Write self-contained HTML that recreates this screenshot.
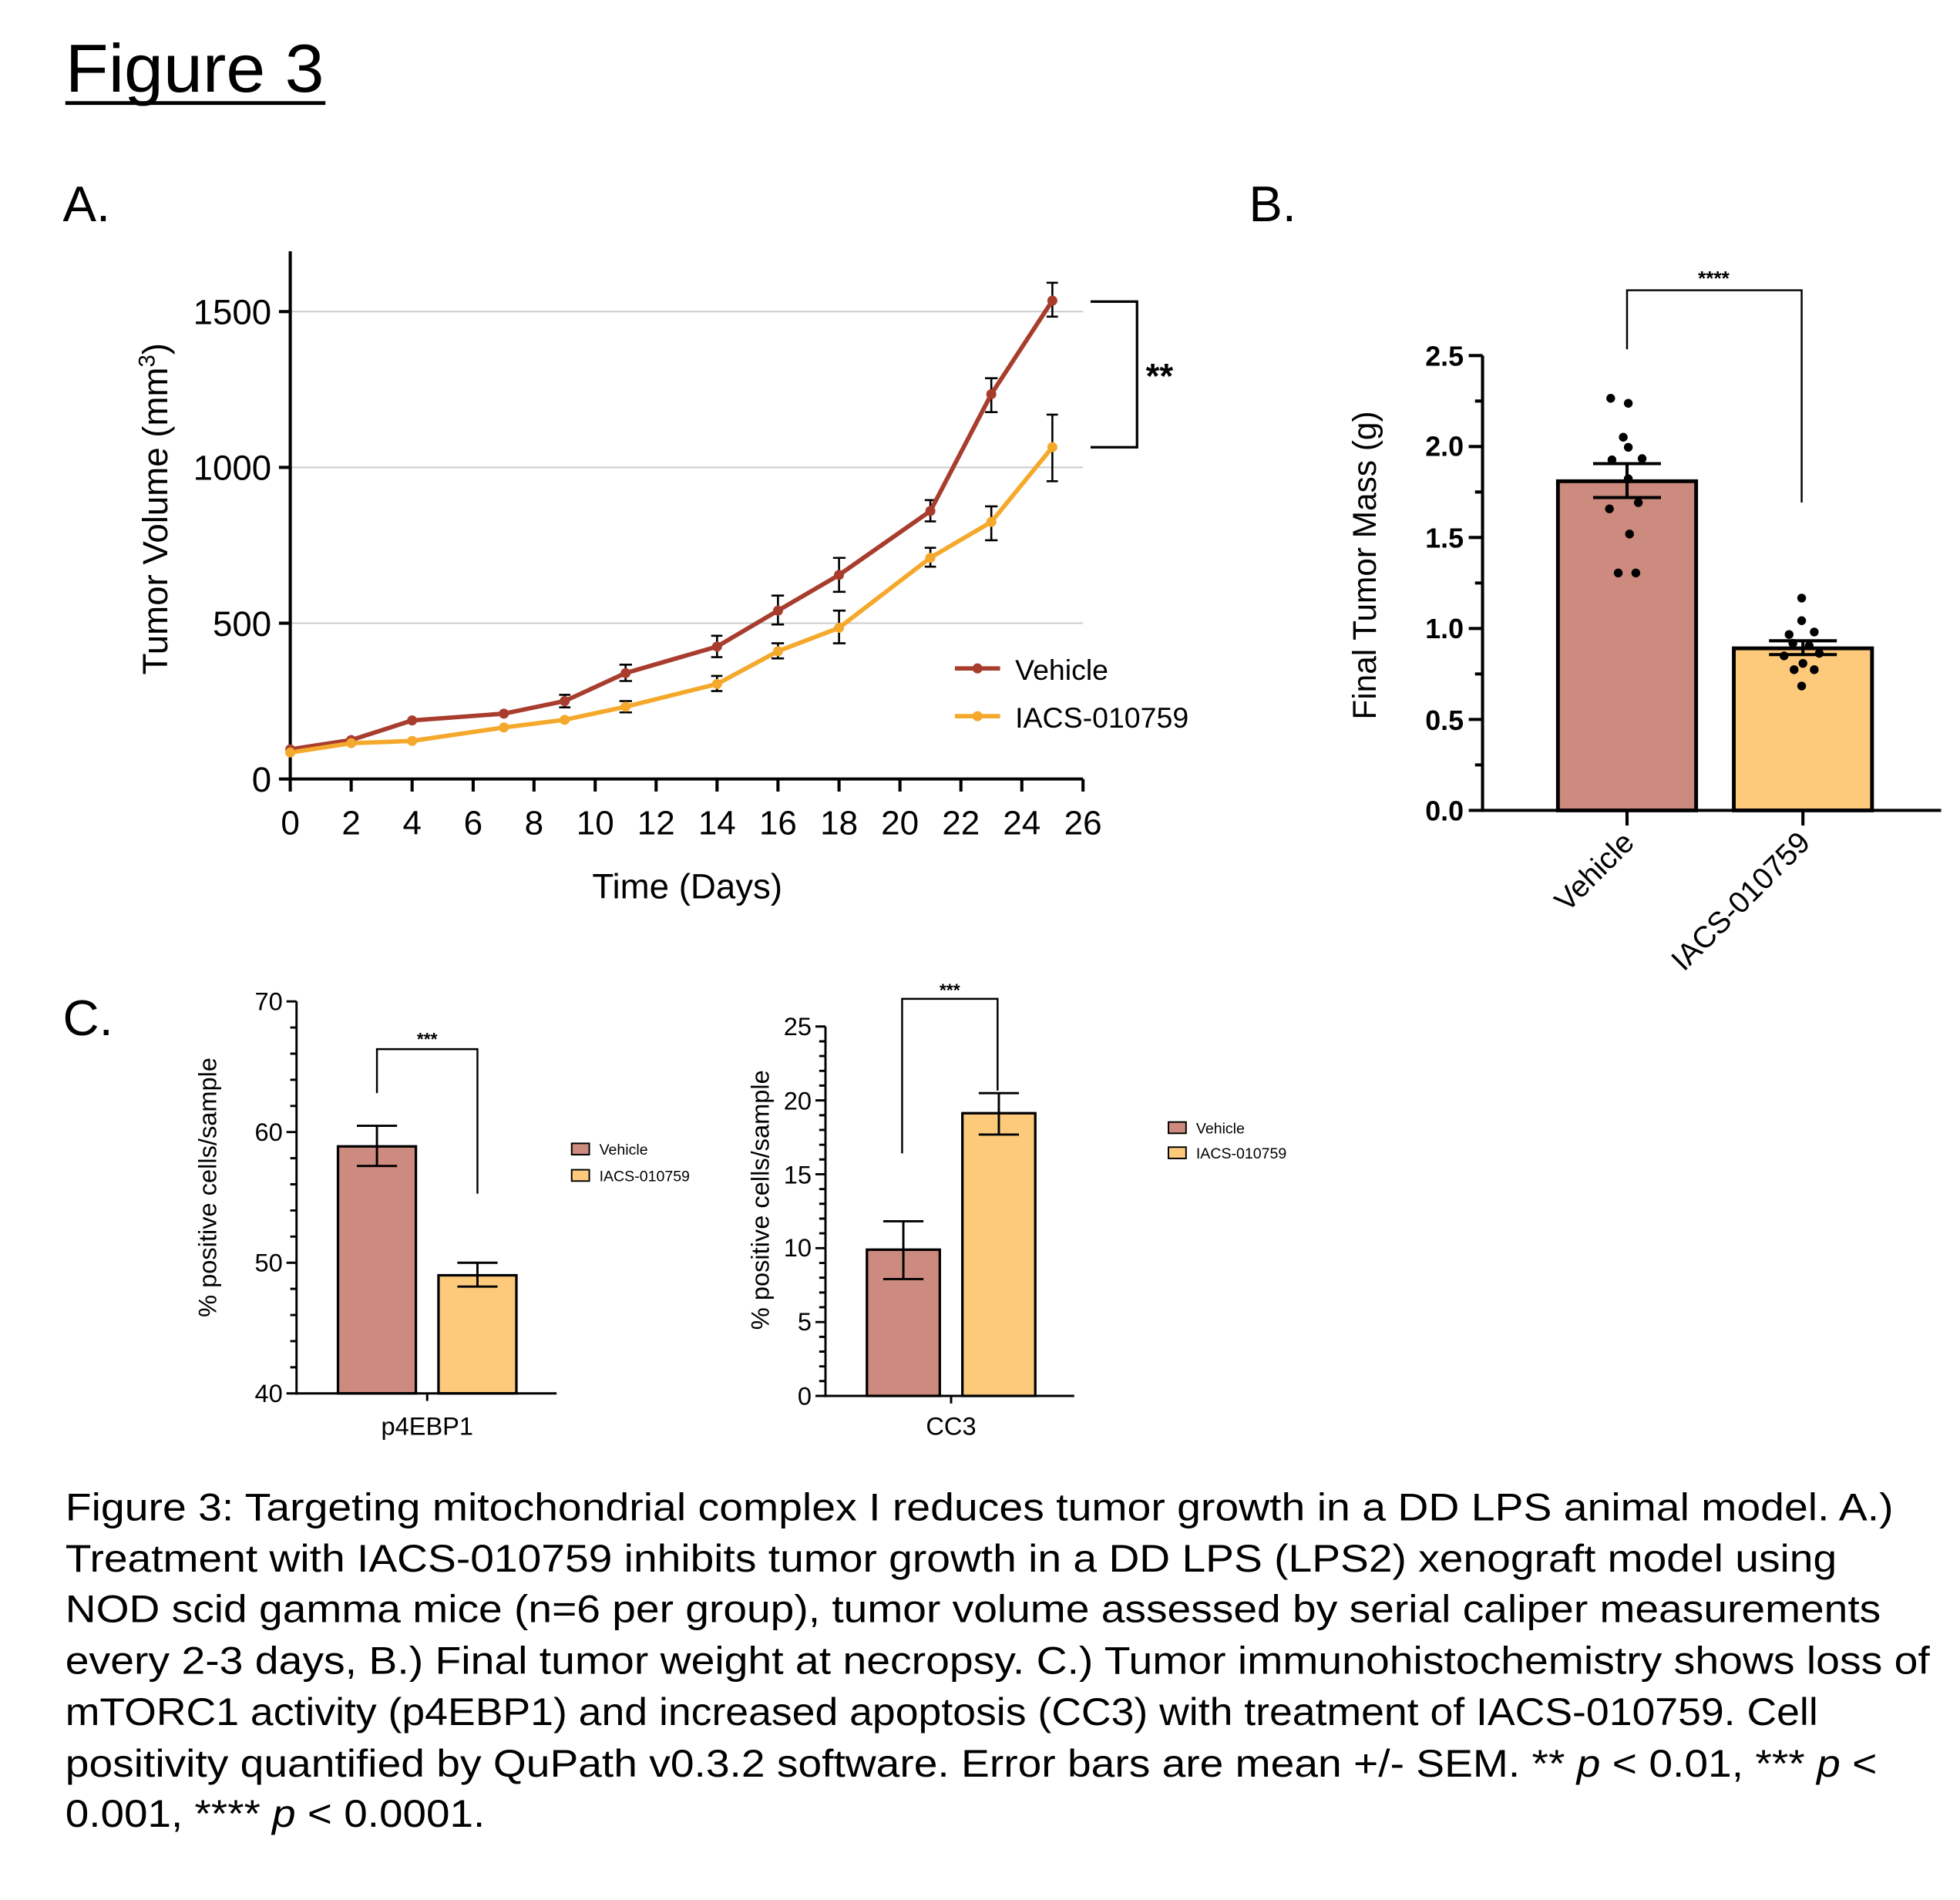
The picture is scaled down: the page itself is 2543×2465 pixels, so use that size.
<!DOCTYPE html>
<html><head><meta charset="utf-8"><style>
html,body{margin:0;padding:0;background:#fff}
svg{display:block}
text{font-family:"Liberation Sans",Arial,sans-serif;fill:#000}
</style></head><body>
<svg width="2543" height="2465" viewBox="0 0 1560 1512.2" xmlns="http://www.w3.org/2000/svg">
<rect width="1560" height="1513" fill="#fff"/>
<!-- Title -->
<text x="52" y="73" font-size="54" textLength="206" lengthAdjust="spacingAndGlyphs">Figure 3</text>
<line x1="52" y1="82" x2="259" y2="82" stroke="#000" stroke-width="3"/>
<text x="50" y="176" font-size="40">A.</text>
<text x="994" y="176" font-size="40">B.</text>
<text x="50" y="824" font-size="40">C.</text>

<!-- Panel A -->
<g stroke="#ccc" stroke-width="1.2">
<line x1="231" y1="496" x2="862" y2="496"/><line x1="231" y1="372" x2="862" y2="372"/><line x1="231" y1="248" x2="862" y2="248"/>
</g>
<g stroke="#000" stroke-width="2.5" fill="none">
<line x1="231" y1="200" x2="231" y2="621"/><line x1="230" y1="620" x2="862" y2="620"/>
<line x1="222" y1="620" x2="231" y2="620"/><line x1="222" y1="496" x2="231" y2="496"/><line x1="222" y1="372" x2="231" y2="372"/><line x1="222" y1="248" x2="231" y2="248"/>
</g>
<g font-size="28" text-anchor="end">
<text x="216" y="630">0</text><text x="216" y="506">500</text><text x="216" y="382">1000</text><text x="216" y="258">1500</text>
</g>
<g stroke="#000" stroke-width="2.5">
<line x1="231" y1="620" x2="231" y2="630"/><line x1="279.5" y1="620" x2="279.5" y2="630"/><line x1="328" y1="620" x2="328" y2="630"/><line x1="376.6" y1="620" x2="376.6" y2="630"/><line x1="425" y1="620" x2="425" y2="630"/><line x1="473.7" y1="620" x2="473.7" y2="630"/><line x1="522.2" y1="620" x2="522.2" y2="630"/><line x1="570.7" y1="620" x2="570.7" y2="630"/><line x1="619.2" y1="620" x2="619.2" y2="630"/><line x1="667.8" y1="620" x2="667.8" y2="630"/><line x1="716.3" y1="620" x2="716.3" y2="630"/><line x1="764.8" y1="620" x2="764.8" y2="630"/><line x1="813.3" y1="620" x2="813.3" y2="630"/><line x1="862" y1="620" x2="862" y2="630"/>
</g>
<g font-size="27" text-anchor="middle">
<text x="231" y="664">0</text><text x="279.5" y="664">2</text><text x="328" y="664">4</text><text x="376.6" y="664">6</text><text x="425" y="664">8</text><text x="473.7" y="664">10</text><text x="522.2" y="664">12</text><text x="570.7" y="664">14</text><text x="619.2" y="664">16</text><text x="667.8" y="664">18</text><text x="716.3" y="664">20</text><text x="764.8" y="664">22</text><text x="813.3" y="664">24</text><text x="862" y="664">26</text>
</g>
<text x="547" y="715" font-size="28" text-anchor="middle">Time (Days)</text>
<text transform="translate(133,405) rotate(-90)" font-size="28" text-anchor="middle">Tumor Volume (mm<tspan dy="-10" font-size="18">3</tspan><tspan dy="10">)</tspan></text>
<g stroke="#000" stroke-width="1.6">
<path d="M837.6 225V252M833 225h9M833 252h9"/>
<path d="M789 301V328M784 301h10M784 328h10"/>
<path d="M740.5 398V415M736 398h9M736 415h9"/>
<path d="M667.8 444V471M663 444h10M663 471h10"/>
<path d="M619.2 474V497M614 474h10M614 497h10"/>
<path d="M570.7 506V523M566 506h9M566 523h9"/>
<path d="M497.9 529V542M493 529h10M493 542h10"/>
<path d="M449.4 553V563M445 553h9M445 563h9"/>
<path d="M837.6 330V383M833 330h9M833 383h9"/>
<path d="M789 403V430M784 403h10M784 430h10"/>
<path d="M740.5 436V451M736 436h9M736 451h9"/>
<path d="M667.8 486V512M663 486h10M663 512h10"/>
<path d="M619.2 512V524M614 512h10M614 524h10"/>
<path d="M570.7 538V550M566 538h9M566 550h9"/>
<path d="M497.9 558V567M493 558h10M493 567h10"/>
</g>
<polyline fill="none" stroke="#a83d2e" stroke-width="3.5" points="231,596.4 279.5,589 328,573.4 401,568 449.4,558 497.9,535.7 570.7,514.6 619.2,486 667.8,457.6 740.5,406.7 789,313.7 837.6,239.3"/>
<polyline fill="none" stroke="#f5a92c" stroke-width="3.5" points="231,598.9 279.5,591.5 328,589.7 401,579 449.4,572.9 497.9,562.5 570.7,544.4 619.2,518.3 667.8,499.7 740.5,443.9 789,415.4 837.6,355.9"/>
<g fill="#a83d2e"><circle cx="231" cy="596.4" r="4"/><circle cx="279.5" cy="589" r="4"/><circle cx="328" cy="573.4" r="4"/><circle cx="401" cy="568" r="4"/><circle cx="449.4" cy="558" r="4"/><circle cx="497.9" cy="535.7" r="4"/><circle cx="570.7" cy="514.6" r="4"/><circle cx="619.2" cy="486" r="4"/><circle cx="667.8" cy="457.6" r="4"/><circle cx="740.5" cy="406.7" r="4"/><circle cx="789" cy="313.7" r="4"/><circle cx="837.6" cy="239.3" r="4"/></g>
<g fill="#f5a92c"><circle cx="231" cy="598.9" r="4"/><circle cx="279.5" cy="591.5" r="4"/><circle cx="328" cy="589.7" r="4"/><circle cx="401" cy="579" r="4"/><circle cx="449.4" cy="572.9" r="4"/><circle cx="497.9" cy="562.5" r="4"/><circle cx="570.7" cy="544.4" r="4"/><circle cx="619.2" cy="518.3" r="4"/><circle cx="667.8" cy="499.7" r="4"/><circle cx="740.5" cy="443.9" r="4"/><circle cx="789" cy="415.4" r="4"/><circle cx="837.6" cy="355.9" r="4"/></g>
<path d="M868 240H905V356H868" fill="none" stroke="#000" stroke-width="2"/>
<text x="912" y="309" font-size="28" font-weight="bold">**</text>
<line x1="760" y1="532" x2="796" y2="532" stroke="#a83d2e" stroke-width="3.5"/><circle cx="778" cy="532" r="4" fill="#a83d2e"/>
<text x="808" y="541" font-size="23">Vehicle</text>
<line x1="760" y1="570" x2="796" y2="570" stroke="#f5a92c" stroke-width="3.5"/><circle cx="778" cy="570" r="4" fill="#f5a92c"/>
<text x="808" y="579" font-size="23">IACS-010759</text>

<!-- Panel B -->
<rect x="1240" y="383" width="110" height="262" fill="#cd8a7e" stroke="#000" stroke-width="3"/>
<rect x="1380" y="516" width="110" height="129" fill="#fdca7c" stroke="#000" stroke-width="3"/>
<g stroke="#000" stroke-width="2.5" fill="none">
<line x1="1180" y1="283" x2="1180" y2="646"/><line x1="1179" y1="645" x2="1545" y2="645"/>
<path d="M1169 645h11M1169 572.6h11M1169 500.2h11M1169 427.8h11M1169 355.4h11M1169 283h11"/>
<path d="M1174 608.8h6M1174 536.4h6M1174 464h6M1174 391.6h6M1174 319.2h6"/>
<path d="M1295 645v12M1435 645v12"/>
<path d="M1295 369v27M1268 369h54M1268 396h54"/>
<path d="M1435 510v11M1408 510h54M1408 521h54"/>
</g>
<g font-size="22" font-weight="bold" text-anchor="end">
<text x="1165" y="653">0.0</text><text x="1165" y="581">0.5</text><text x="1165" y="508">1.0</text><text x="1165" y="436">1.5</text><text x="1165" y="363">2.0</text><text x="1165" y="291">2.5</text>
</g>
<text transform="translate(1095,450) rotate(-90)" font-size="26" text-anchor="middle">Final Tumor Mass (g)</text>
<g fill="#000">
<circle cx="1282" cy="317" r="3.5"/><circle cx="1296" cy="321" r="3.5"/><circle cx="1292" cy="348" r="3.5"/><circle cx="1296" cy="356" r="3.5"/><circle cx="1283" cy="366" r="3.5"/><circle cx="1307" cy="365" r="3.5"/><circle cx="1296" cy="381" r="3.5"/><circle cx="1304" cy="400" r="3.5"/><circle cx="1281" cy="405" r="3.5"/><circle cx="1297" cy="425" r="3.5"/><circle cx="1288" cy="456" r="3.5"/><circle cx="1302" cy="456" r="3.5"/>
<circle cx="1434" cy="476" r="3.5"/><circle cx="1434" cy="494" r="3.5"/><circle cx="1424" cy="505" r="3.5"/><circle cx="1444" cy="503" r="3.5"/><circle cx="1427" cy="512" r="3.5"/><circle cx="1440" cy="514" r="3.5"/><circle cx="1420" cy="522" r="3.5"/><circle cx="1448" cy="520" r="3.5"/><circle cx="1435" cy="528" r="3.5"/><circle cx="1428" cy="533" r="3.5"/><circle cx="1444" cy="533" r="3.5"/><circle cx="1434" cy="546" r="3.5"/>
</g>
<path d="M1295 278V231H1434V400" fill="none" stroke="#000" stroke-width="1.5"/>
<text x="1364" y="227" font-size="16" font-weight="bold" text-anchor="middle">****</text>
<text transform="translate(1302,672) rotate(-45)" font-size="24" text-anchor="end">Vehicle</text>
<text transform="translate(1442,672) rotate(-45)" font-size="24" text-anchor="end">IACS-010759</text>

<!-- Panel C left -->
<rect x="269" y="912.4" width="62" height="196.6" fill="#cd8a7e" stroke="#000" stroke-width="2"/>
<rect x="349" y="1015" width="62" height="94" fill="#fdca7c" stroke="#000" stroke-width="2"/>
<g stroke="#000" stroke-width="1.8" fill="none">
<line x1="236" y1="797" x2="236" y2="1110"/><line x1="235" y1="1109" x2="443" y2="1109"/>
<path d="M228 1109h8M228 1005h8M228 901h8M228 797h8"/>
<path d="M231 1088.2h5M231 1067.4h5M231 1046.6h5M231 1025.8h5M231 984.2h5M231 963.4h5M231 942.6h5M231 921.8h5M231 880.2h5M231 859.4h5M231 838.6h5M231 817.8h5"/>
<path d="M300 896v32M284 896h32M284 928h32"/>
<path d="M380 1005v19M364 1005h32M364 1024h32"/>
<path d="M340 1109v6"/>
</g>
<path d="M300 870V835H380V950" fill="none" stroke="#000" stroke-width="1.5"/>
<text x="340" y="832" font-size="14" font-weight="bold" text-anchor="middle">***</text>
<g font-size="20" text-anchor="end"><text x="225" y="1116">40</text><text x="225" y="1012">50</text><text x="225" y="908">60</text><text x="225" y="804">70</text></g>
<text x="340" y="1142" font-size="20" text-anchor="middle">p4EBP1</text>
<text transform="translate(172,945) rotate(-90)" font-size="20" text-anchor="middle">% positive cells/sample</text>
<rect x="455" y="910" width="14" height="9" fill="#cd8a7e" stroke="#000" stroke-width="1.2"/><text x="477" y="919" font-size="12">Vehicle</text>
<rect x="455" y="931" width="14" height="9" fill="#fdca7c" stroke="#000" stroke-width="1.2"/><text x="477" y="940" font-size="12">IACS-010759</text>

<!-- Panel C right -->
<rect x="690" y="994.6" width="58" height="116.4" fill="#cd8a7e" stroke="#000" stroke-width="2"/>
<rect x="766" y="886" width="58" height="225" fill="#fdca7c" stroke="#000" stroke-width="2"/>
<g stroke="#000" stroke-width="1.8" fill="none">
<line x1="657" y1="817" x2="657" y2="1112"/><line x1="656" y1="1111" x2="855" y2="1111"/>
<path d="M649 1111h8M649 1052.2h8M649 993.4h8M649 934.6h8M649 875.8h8M649 817h8"/>
<path d="M652 1099.2h5M652 1087.5h5M652 1075.7h5M652 1064h5M652 1040.4h5M652 1028.7h5M652 1016.9h5M652 1005.2h5M652 981.6h5M652 969.9h5M652 958.1h5M652 946.4h5M652 922.8h5M652 911.1h5M652 899.3h5M652 887.6h5M652 864h5M652 852.3h5M652 840.5h5M652 828.8h5"/>
<path d="M719 972v46M703 972h32M703 1018h32"/>
<path d="M795 870v33M779 870h32M779 903h32"/>
<path d="M757 1111v6"/>
</g>
<path d="M718 918V795H794V868" fill="none" stroke="#000" stroke-width="1.5"/>
<text x="756" y="793" font-size="14" font-weight="bold" text-anchor="middle">***</text>
<g font-size="20" text-anchor="end"><text x="646" y="1118">0</text><text x="646" y="1059">5</text><text x="646" y="1000">10</text><text x="646" y="942">15</text><text x="646" y="883">20</text><text x="646" y="824">25</text></g>
<text x="757" y="1142" font-size="20" text-anchor="middle">CC3</text>
<text transform="translate(612,955) rotate(-90)" font-size="20" text-anchor="middle">% positive cells/sample</text>
<rect x="930" y="893" width="14" height="9" fill="#cd8a7e" stroke="#000" stroke-width="1.2"/><text x="952" y="902" font-size="12">Vehicle</text>
<rect x="930" y="913" width="14" height="9" fill="#fdca7c" stroke="#000" stroke-width="1.2"/><text x="952" y="922" font-size="12">IACS-010759</text>

<!-- Caption -->
<g font-size="30.5">
<text x="52" y="1210" textLength="1455" lengthAdjust="spacingAndGlyphs">Figure 3: Targeting mitochondrial complex I reduces tumor growth in a DD LPS animal model. A.)</text>
<text x="52" y="1251" textLength="1410" lengthAdjust="spacingAndGlyphs">Treatment with IACS-010759 inhibits tumor growth in a DD LPS (LPS2) xenograft model using</text>
<text x="52" y="1291" textLength="1445" lengthAdjust="spacingAndGlyphs">NOD scid gamma mice (n=6 per group), tumor volume assessed by serial caliper measurements</text>
<text x="52" y="1332" textLength="1484" lengthAdjust="spacingAndGlyphs">every 2-3 days, B.) Final tumor weight at necropsy. C.) Tumor immunohistochemistry shows loss of</text>
<text x="52" y="1373" textLength="1395" lengthAdjust="spacingAndGlyphs">mTORC1 activity (p4EBP1) and increased apoptosis (CC3) with treatment of IACS-010759. Cell</text>
<text x="52" y="1414" textLength="1442" lengthAdjust="spacingAndGlyphs">positivity quantified by QuPath v0.3.2 software. Error bars are mean +/- SEM. ** <tspan font-style="italic">p</tspan> &lt; 0.01, *** <tspan font-style="italic">p</tspan> &lt;</text>
<text x="52" y="1454" textLength="334" lengthAdjust="spacingAndGlyphs">0.001, **** <tspan font-style="italic">p</tspan> &lt; 0.0001.</text>
</g>
</svg>
</body></html>
